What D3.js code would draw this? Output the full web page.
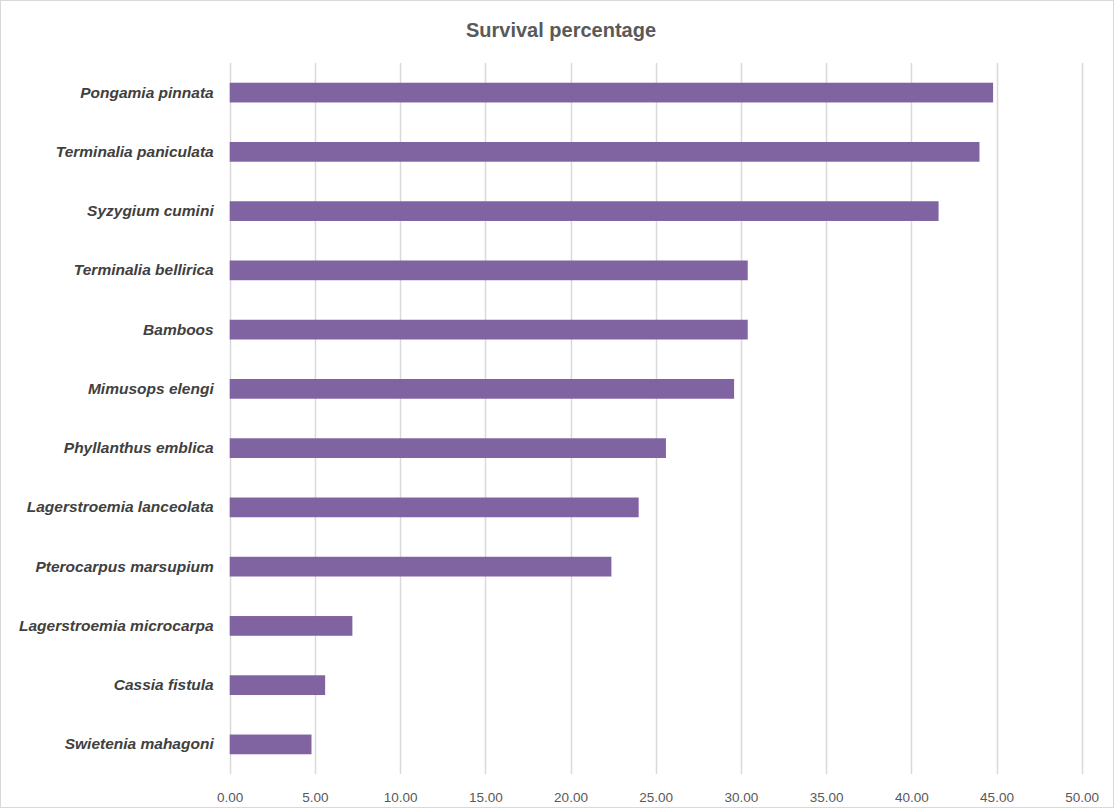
<!DOCTYPE html>
<html>
<head>
<meta charset="utf-8">
<script src="https://cdn.jsdelivr.net/npm/d3@7"></script>
<style>
  html, body { margin: 0; padding: 0; background: #fff; }
  svg { display: block; }
</style>
</head>
<body>
<script>
const categories = [
  "Pongamia pinnata",
  "Terminalia paniculata",
  "Syzygium cumini",
  "Terminalia bellirica",
  "Bamboos",
  "Mimusops elengi",
  "Phyllanthus emblica",
  "Lagerstroemia lanceolata",
  "Pterocarpus marsupium",
  "Lagerstroemia microcarpa",
  "Cassia fistula",
  "Swietenia mahagoni"
];
const survival = [44.8, 44.0, 41.6, 30.4, 30.4, 29.6, 25.6, 24.0, 22.4, 7.2, 5.6, 4.8];
const tickValues = [0, 5, 10, 15, 20, 25, 30, 35, 40, 45, 50];
const title = "Survival percentage";

const W = 1115, H = 809;
const margin = { left: 229.7, right: 1115 - 1081.7, top: 63, bottom: 809 - 774 };

const svg = d3.select("body").append("svg").attr("width", W).attr("height", H);

svg.append("rect")
  .attr("x", 0.5).attr("y", 0.5)
  .attr("width", W - 2).attr("height", H - 2)
  .attr("fill", "#fff").attr("stroke", "#d9d9d9");

const x = d3.scaleLinear().domain([0, 50]).range([margin.left, W - margin.right]);
const y = d3.scaleBand().domain(categories).range([margin.top, H - margin.bottom]).paddingInner(0.667).paddingOuter(0.333);

svg.append("text")
  .attr("x", 561).attr("y", 37)
  .attr("text-anchor", "middle")
  .attr("font-family", "Liberation Sans, Arial, sans-serif")
  .attr("font-weight", "bold")
  .attr("font-size", 20)
  .attr("fill", "#595959")
  .text(title);

// gridlines
svg.append("g").selectAll("line").data(tickValues).join("line")
  .attr("x1", d => Math.round(x(d)) + 0.5).attr("x2", d => Math.round(x(d)) + 0.5)
  .attr("y1", margin.top).attr("y2", H - margin.bottom)
  .attr("stroke", "#d9d9d9").attr("stroke-width", 1.5);

// bars
svg.append("g").selectAll("rect").data(categories).join("rect")
  .attr("x", x(0))
  .attr("y", d => y(d))
  .attr("width", (d, i) => x(survival[i]) - x(0))
  .attr("height", y.bandwidth())
  .attr("fill", "#8064a2");

// x axis
const xAxis = d3.axisBottom(x).tickValues(tickValues).tickFormat(d3.format(".2f")).tickSize(0).tickPadding(0);
const gx = svg.append("g").attr("transform", `translate(0,${H - margin.bottom})`).call(xAxis);
gx.select(".domain").remove();
gx.selectAll("text")
  .attr("dy", 0).attr("y", 28)
  .attr("font-family", "Liberation Sans, Arial, sans-serif")
  .attr("font-size", 13.5)
  .attr("fill", "#595959");

// y axis
const yAxis = d3.axisLeft(y).tickSize(0).tickPadding(16);
const gy = svg.append("g").attr("transform", `translate(${x(0)},0)`).call(yAxis);
gy.select(".domain").remove();
gy.selectAll("text")
  .attr("font-family", "Liberation Sans, Arial, sans-serif")
  .attr("font-size", 15.5)
  .attr("font-weight", "bold")
  .attr("font-style", "italic")
  .attr("fill", "#404040");
</script>
</body>
</html>
